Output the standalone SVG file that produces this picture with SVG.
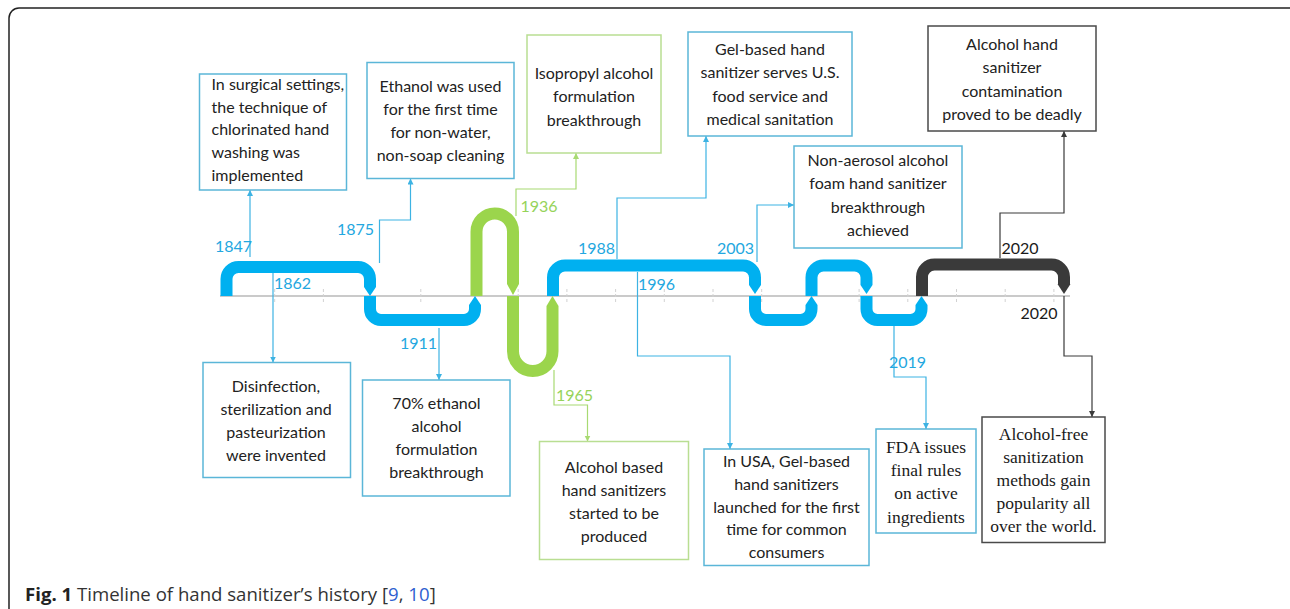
<svg xmlns="http://www.w3.org/2000/svg" width="1290" height="609" viewBox="0 0 1290 609">
<style>
.bx{fill:#fff;stroke-width:1.5}
.bb{stroke:#5bb6d8}
.bg{stroke:#b9de92}
.bk{stroke:#4a4a4a}
.t{font-family:Lato,"Open Sans",sans-serif;font-size:16px;fill:#222}
.ts{font-family:"Liberation Serif","Times New Roman",serif;font-size:17.5px;fill:#1a1a1a}
.c{text-anchor:middle}
.yr{font-family:Lato,"Open Sans",sans-serif;font-size:16px}
.yb{fill:#23a7e0}
.yg{fill:#96d35a}
.yk{fill:#1a1a1a}
.cn{fill:none;stroke-width:1.2}
.cb{stroke:#3db3e3}
.cg{stroke:#a8da72}
.ck{stroke:#3a3a3a}
.band{fill:none;stroke-width:12;stroke-linecap:butt;stroke-linejoin:round}
.tick{stroke:#d2d2d2;stroke-width:1;stroke-dasharray:3 2}
</style>
<defs>
<marker id="aB" markerUnits="userSpaceOnUse" markerWidth="7" markerHeight="7" refX="6" refY="3" orient="auto"><path d="M0,0 L6,3 L0,6 z" fill="#3db3e3"/></marker>
<marker id="aG" markerUnits="userSpaceOnUse" markerWidth="7" markerHeight="7" refX="6" refY="3" orient="auto"><path d="M0,0 L6,3 L0,6 z" fill="#a8da72"/></marker>
<marker id="aK" markerUnits="userSpaceOnUse" markerWidth="7" markerHeight="7" refX="6" refY="3" orient="auto"><path d="M0,0 L6,3 L0,6 z" fill="#3a3a3a"/></marker>
</defs>
<rect x="9" y="8" width="1290" height="620" rx="10" fill="none" stroke="#222" stroke-width="1.5"/>

<g id="axis">
<line x1="220" y1="296" x2="1070" y2="296" stroke="#cacaca" stroke-width="2"/>
<line class="tick" x1="274.7" y1="289" x2="274.7" y2="303"/>
<line class="tick" x1="323.4" y1="289" x2="323.4" y2="303"/>
<line class="tick" x1="420.8" y1="289" x2="420.8" y2="303"/>
<line class="tick" x1="518.2" y1="289" x2="518.2" y2="303"/>
<line class="tick" x1="566.9" y1="289" x2="566.9" y2="303"/>
<line class="tick" x1="615.6" y1="289" x2="615.6" y2="303"/>
<line class="tick" x1="664.3" y1="289" x2="664.3" y2="303"/>
<line class="tick" x1="713" y1="289" x2="713" y2="303"/>
<line class="tick" x1="761.7" y1="289" x2="761.7" y2="303"/>
<line class="tick" x1="859.1" y1="289" x2="859.1" y2="303"/>
<line class="tick" x1="907.8" y1="289" x2="907.8" y2="303"/>
<line class="tick" x1="956.5" y1="289" x2="956.5" y2="303"/>
<line class="tick" x1="1005.2" y1="289" x2="1005.2" y2="303"/>
<line class="tick" x1="1053.9" y1="289" x2="1053.9" y2="303"/>
</g>

<g id="band">
<path class="band" stroke="#00b0f0" d="M226.5,296 V279 A12,12 0 0 1 238.5,267 H358 A12,12 0 0 1 370,279 V287"/>
<polygon fill="#00b0f0" points="364,287 376,287 370,296"/>
<path class="band" stroke="#00b0f0" d="M370,296 V309 A11,11 0 0 0 381,320 H464 A11,11 0 0 0 475,309 V305"/>
<polygon fill="#00b0f0" points="469,305 481,305 475,296"/>
<path class="band" stroke="#9bd54c" d="M476.5,296 V231.75 A18.25,18.25 0 0 1 513,231.75 V284"/>
<polygon fill="#9bd54c" points="507,284 519,284 513,295"/>
<path class="band" stroke="#9bd54c" d="M513,296 V351.25 A19.75,19.75 0 0 0 552.5,351.25 V306"/>
<polygon fill="#9bd54c" points="546.5,306 558.5,306 552.5,296"/>
<path class="band" stroke="#00b0f0" d="M553,296 V277.5 A12,12 0 0 1 565,265.5 H743 A12,12 0 0 1 755,277.5 V285"/>
<polygon fill="#00b0f0" points="749,285 761,285 755,294"/>
<path class="band" stroke="#00b0f0" d="M755,296 V309 A11,11 0 0 0 766,320 H800.5 A11,11 0 0 0 811.5,309 V305"/>
<polygon fill="#00b0f0" points="805.5,305 817.5,305 811.5,296"/>
<path class="band" stroke="#00b0f0" d="M811.5,296 V277.5 A12,12 0 0 1 823.5,265.5 H854.5 A12,12 0 0 1 866.5,277.5 V285"/>
<polygon fill="#00b0f0" points="860.5,285 872.5,285 866.5,294"/>
<path class="band" stroke="#00b0f0" d="M866.5,296 V309 A11,11 0 0 0 877.5,320 H910.5 A11,11 0 0 0 921.5,309 V305"/>
<polygon fill="#00b0f0" points="915.5,305 927.5,305 921.5,296"/>
<path class="band" stroke="#3a3a3a" stroke-width="13" d="M922,296 V277 A12.5,12.5 0 0 1 934.5,264.5 H1051.5 A12.5,12.5 0 0 1 1064,277 V284"/>
<polygon fill="#3a3a3a" points="1057.5,284 1070.5,284 1064,294"/>
</g>

<g id="connectors">
<path class="cn cb" marker-end="url(#aB)" d="M250,257 V190"/>
<path class="cn cb" marker-end="url(#aB)" d="M273,273 V362.5"/>
<path class="cn cb" marker-end="url(#aB)" d="M379.5,263 V220 H410.5 V178.5"/>
<path class="cn cb" marker-end="url(#aB)" d="M439,328 V380"/>
<path class="cn cg" marker-end="url(#aG)" d="M516,216 V189 H576 V153"/>
<path class="cn cg" marker-end="url(#aG)" d="M554,370 V405 H587.5 V441.5"/>
<path class="cn cb" marker-end="url(#aB)" d="M617,259 V198 H706 V136"/>
<path class="cn cb" marker-end="url(#aB)" d="M637.5,272 V356 H730 V449"/>
<path class="cn cb" marker-end="url(#aB)" d="M757,262 V205 H794"/>
<path class="cn cb" marker-end="url(#aB)" d="M894,326 V377 H926 V429"/>
<path class="cn ck" marker-end="url(#aK)" d="M1000,258 V213 H1064 V131"/>
<path class="cn ck" marker-end="url(#aK)" d="M1064,296 V356 H1092 V417"/>
</g>

<g id="years">
<text class="yr yb" x="215" y="252">1847</text>
<text class="yr yb" x="274" y="289">1862</text>
<text class="yr yb" x="337" y="235">1875</text>
<text class="yr yb" x="400" y="349">1911</text>
<text class="yr yg" x="520.5" y="212">1936</text>
<text class="yr yg" x="556" y="401">1965</text>
<text class="yr yb" x="578" y="254">1988</text>
<text class="yr yb" x="638" y="290">1996</text>
<text class="yr yb" x="717" y="254">2003</text>
<text class="yr yb" x="889" y="368">2019</text>
<text class="yr yk" x="1001.5" y="254">2020</text>
<text class="yr yk" x="1020.5" y="319">2020</text>
</g>

<g id="n1847">
<rect class="bx bb" x="199.5" y="74" width="147" height="116"/>
<text class="t" x="211.5"><tspan x="211.5" y="90">In surgical settings,</tspan><tspan x="211.5" y="112.7">the technique of</tspan><tspan x="211.5" y="135.3">chlorinated hand</tspan><tspan x="211.5" y="158">washing was</tspan><tspan x="211.5" y="180.7">implemented</tspan></text>
</g>
<g id="n1875">
<rect class="bx bb" x="367" y="62.5" width="147" height="116"/>
<text class="t c"><tspan x="440.5" y="91.7">Ethanol was used</tspan><tspan x="440.5" y="114.8">for the first time</tspan><tspan x="440.5" y="137.9">for non-water,</tspan><tspan x="440.5" y="161">non-soap cleaning</tspan></text>
</g>
<g id="n1936">
<rect class="bx bg" x="527" y="35" width="134" height="118"/>
<text class="t c"><tspan x="594" y="79">Isopropyl alcohol</tspan><tspan x="594" y="102.3">formulation</tspan><tspan x="594" y="125.6">breakthrough</tspan></text>
</g>
<g id="n1988">
<rect class="bx bb" x="688" y="32" width="164" height="104"/>
<text class="t c"><tspan x="770" y="55">Gel-based hand</tspan><tspan x="770" y="78.3">sanitizer serves U.S.</tspan><tspan x="770" y="101.6">food service and</tspan><tspan x="770" y="124.9">medical sanitation</tspan></text>
</g>
<g id="n2003">
<rect class="bx bb" x="794" y="146" width="168" height="102"/>
<text class="t c"><tspan x="878" y="166">Non-aerosol alcohol</tspan><tspan x="878" y="189.3">foam hand sanitizer</tspan><tspan x="878" y="212.6">breakthrough</tspan><tspan x="878" y="235.9">achieved</tspan></text>
</g>
<g id="n2020a">
<rect class="bx bk" x="928" y="26" width="168" height="105"/>
<text class="t c"><tspan x="1012" y="50">Alcohol hand</tspan><tspan x="1012" y="73.3">sanitizer</tspan><tspan x="1012" y="96.6">contamination</tspan><tspan x="1012" y="119.9">proved to be deadly</tspan></text>
</g>
<g id="n1862">
<rect class="bx bb" x="203" y="362.5" width="147.5" height="115"/>
<text class="t c"><tspan x="276" y="391.7">Disinfection,</tspan><tspan x="276" y="414.7">sterilization and</tspan><tspan x="276" y="437.7">pasteurization</tspan><tspan x="276" y="460.7">were invented</tspan></text>
</g>
<g id="n1911">
<rect class="bx bb" x="362.5" y="380" width="147.5" height="116"/>
<text class="t c"><tspan x="436.5" y="409.3">70% ethanol</tspan><tspan x="436.5" y="432.3">alcohol</tspan><tspan x="436.5" y="455.3">formulation</tspan><tspan x="436.5" y="478.3">breakthrough</tspan></text>
</g>
<g id="n1965">
<rect class="bx bg" x="539.5" y="441.5" width="149" height="118"/>
<text class="t c"><tspan x="614" y="472.7">Alcohol based</tspan><tspan x="614" y="495.7">hand sanitizers</tspan><tspan x="614" y="518.7">started to be</tspan><tspan x="614" y="541.7">produced</tspan></text>
</g>
<g id="n1996">
<rect class="bx bb" x="704" y="449" width="165" height="116.5"/>
<text class="t c"><tspan x="786.5" y="466.7">In USA, Gel-based</tspan><tspan x="786.5" y="489.6">hand sanitizers</tspan><tspan x="786.5" y="512.5">launched for the first</tspan><tspan x="786.5" y="535.4">time for common</tspan><tspan x="786.5" y="558.3">consumers</tspan></text>
</g>
<g id="n2019">
<rect class="bx bb" x="876" y="429" width="100" height="104"/>
<text class="ts c"><tspan x="926" y="453">FDA issues</tspan><tspan x="926" y="476.2">final rules</tspan><tspan x="926" y="499.4">on active</tspan><tspan x="926" y="522.6">ingredients</tspan></text>
</g>
<g id="n2020b">
<rect class="bx bk" x="982" y="417" width="123" height="125.5"/>
<text class="ts c"><tspan x="1043.5" y="440">Alcohol-free</tspan><tspan x="1043.5" y="463">sanitization</tspan><tspan x="1043.5" y="486">methods gain</tspan><tspan x="1043.5" y="509">popularity all</tspan><tspan x="1043.5" y="532">over the world.</tspan></text>
</g>

<g id="caption">
<text x="25" y="601" font-family="'Open Sans','Liberation Sans',sans-serif" font-size="18.6" fill="#333"><tspan font-weight="bold" fill="#222">Fig. 1</tspan> Timeline of hand sanitizer’s history [<tspan fill="#2f5fd0">9</tspan>, <tspan fill="#2f5fd0">10</tspan>]</text>
</g>
</svg>
